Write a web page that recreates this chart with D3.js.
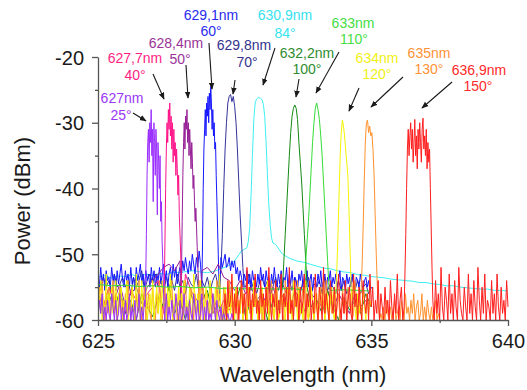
<!DOCTYPE html>
<html><head><meta charset="utf-8">
<script src="https://cdn.jsdelivr.net/npm/d3@7/dist/d3.min.js"></script>
<style>
html,body{margin:0;padding:0;background:#fff;}
svg{display:block;font-family:"Liberation Sans",Arial,sans-serif;}
</style></head>
<body>
<svg id="chart" width="527" height="390"></svg>
<script>
// ---------------- DATA ----------------
const xMajorTicks = [625, 630, 635, 640];
const xMinorTicks = [627.5, 632.5, 637.5];
const yMajorTicks = [-20, -30, -40, -50, -60];
const yMinorTicks = [-25, -35, -45, -55];

const seriesNames  = ["630,9nm", "629,8nm", "629,1nm", "628,4nm", "627,7nm", "632,2nm", "635nm", "634nm", "627nm", "633nm", "636,9nm"];
const seriesAngles = ["84°", "70°", "60°", "50°", "40°", "100°", "130°", "120°", "25°", "110°", "150°"];

// each spectrum = noise floor (start, step, values) + peak (start, step, values)
const cyanNoiseStart = 625, cyanNoiseStep = 0.25;
const cyanNoise = [-53.5,-53.2,-53.6,-53.3,-53.4,-53.1,-53.5,-53.0,-53.2,-52.9,-53.1,-52.7,-52.8,-52.6,-52.5,-52.7,-52.8,-52.6,-52.2,-51.8,-51.0,-49.5,-49,-30,-26,-40,-48.5,-50.0,-50.6,-51.0,-51.2,-51.5,-51.8,-52.1,-52.2,-52.5,-52.7,-52.8,-53.1,-53.2,-53.4,-53.5,-53.6,-53.8,-53.9,-54.0,-54.1,-54.3,-54.3,-54.5,-54.6,-54.8,-54.8,-55.0,-55.1,-55.2,-55.3,-55.3,-55.5,-55.5,-55.6];
const cyanPeakStart = 630.45, cyanPeakStep = 0.05;
const cyanPeak = [-49,-48,-46,-41,-35,-29.5,-27,-26.4,-26.2,-26.2,-26.3,-26.5,-27.2,-29,-33,-38,-42.5,-45.5,-47.5,-48.3];

const navyNoiseStart = 625, navyNoiseStep = 0.1;
const navyNoise = [-54,-55.5,-53.5,-55,-54,-56,-53,-55,-54.5,-53.5,
  -55,-54,-56,-53.5,-55,-54,-52.5,-55.5,-54,-53,
  -54.5,-53,-55,-54,-56,-53.5,-55,-54,-55.5,-53,
  -55,-54,-56,-53.5,-54.5,-55,-53,-56,-54,-55,
  -53.5,-55.5,-54,-53,-55,-54.5,-56,-53.5,-55,-54,
  -55,-53.5,-56,-54.5,-55,-53,-55.5,-54,-56,-54.5,
  -53.5,-55,-54,-56,-55,-53.5,-55.5,-54,-55,-56,
  -54,-55.5,-53.5,-55,-56,-54,-55,-53.5,-56,-54.5,
  -55,-54,-56,-53.5,-55.5,-54.5,-55,-56,-54,-55.5,
  -54,-56,-55,-53.5,-55.5,-54,-56,-55,-54.5,-56,-55];
const navyPeakStart = 629.45, navyPeakStep = 0.05;
const navyPeak = [-55,-52,-47,-40,-34,-30,-27,-26,-25.7,-26.8,-26,-27.5,-30,-34,-39,-44,-48,-52,-55];

const blueNoiseStart = 625, blueNoiseStep = 0.05;
const blueNoise = [-53,-55,-52,-54.5,-53,-55.5,-52.5,-54,-53.5,-55,-52,-54,-53,-55.5,-52.5,-54.5,-53,-51.5,-54,-55,
  -52.5,-54,-53,-55,-52,-54.5,-53.5,-55.5,-52,-54,-53,-51.5,-54.5,-53,-55,-52.5,-54,-53,-55,-52,
  -54,-52.5,-55,-53,-54,-52,-54.5,-53,-51.5,-54,-52.5,-55,-53,-52,-54,-51.5,-53.5,-52,-54.5,-53,
  -52,-53.5,-51,-52.5,-50.5,-52,-53,-51,-52.5,-50,-51.5,-53,-50.5,-52,-49.5,-51.5,-50,-52,-51,-49.5,
  -50,-51.5,-50.5,-52,-51,-50,-52.5,-51,-49.5,-51.5,-50.5,-52,-51,-50,-52,-51.5,-50.5,-52.5,-51,-52,
  -51,-53,-52,-54,-52.5,-53.5,-55,-53,-54,-52.5,-54.5,-53,-55,-52.5,-54,-53.5,-55,-53,-54.5,-52,
  -54,-53,-55,-52.5,-54,-53.5,-55.5,-53,-54.5,-52,-54,-55,-53,-54.5,-52.5,-55,-53.5,-54,-52,-55,
  -53,-54.5,-52.5,-55,-53.5,-54,-55.5,-53,-54,-52.5,-55,-53,-54.5,-52.5,-55,-54,-53,-55.5,-53.5,-54,
  -55,-53,-54.5,-52.5,-55,-54,-53,-55.5,-53.5,-54,-52.5,-55,-53.5,-54.5,-53,-55,-54,-52.5,-55.5,-53.5,
  -54,-55.5,-53,-54.5,-53.5,-55,-53,-54.5,-55.5,-53.5,-54,-55,-53,-54.5,-55.5,-54,-53.5,-55,-54,-55.5,
  -55];
const bluePeakStart = 628.8, bluePeakStep = 0.025;
const bluePeak = [-55,-48,-40,-34,-31,-28,-32,-27,-29,-26,-30,-25.5,-28,-24.5,-27,-31,-28,-32,-30,-34,-33,-38,-42,-46,-50,-54,-57];

const purpleNoiseStart = 625, purpleNoiseStep = 0.2;
const purpleNoise = [-56,-58,-55,-57,-54.5,-58,-56,-55,-57.5,-55,
  -54,-53,-52,-51.5,-52.5,-51,-52,-53,-51.5,-52.5,
  -52,-53,-51.5,-53.5,-54,-55.5,-54,-56,-55,-57,
  -56,-58,-55,-57.5,-56,-58.5,-55.5,-57,-59,-56,
  -57,-58,-55.5,-58.5,-56,-57.5,-59,-56,-58,-57,-58];
const purplePeakStart = 628.03, purplePeakStep = 0.025;
const purplePeak = [-58,-53,-45,-38,-33,-30,-34,-29,-31,-28,-33,-30,-35,-31,-34,-37,-33,-36,-40,-38,-42,-45,-43,-46,-49,-52,-55,-57,-59];

const pinkNoiseStart = 625, pinkNoiseStep = 0.2;
const pinkNoise = [-56,-58,-55,-57.5,-56,-59,-55.5,-57,-58.5,-56,-55,-54,-53.5,-55,-54.5,-56,-53,-55.5,-57,-55,-58,-56,-59,-57,-58.5,-57];
const pinkPeakStart = 627.4, pinkPeakStep = 0.025;
const pinkPeak = [-59,-55,-48,-40,-34,-30,-33,-28,-31,-27,-32,-29,-34,-30,-36,-31,-35,-33,-38,-34,-37,-41,-38,-44,-47,-50,-54,-57,-59];

const dgreenNoiseStart = 625, dgreenNoiseStep = 0.2;
const dgreenNoise = [-57,-59,-56,-58.5,-55.5,-59,-57,-60,-56,-58,
  -59.5,-56.5,-58,-55,-59,-57,-60,-56,-58.5,-57,
  -55.5,-59,-57.5,-60,-56,-58,-55,-59.5,-57,-58,
  -56,-60,-57,-58.5,-55.5,-59,-57.5,-56,-60,-58,
  -57,-59,-55.5,-58,-60,-56.5,-58.5,-57,-59,-56,-58];
const dgreenPeakStart = 631.75, dgreenPeakStep = 0.05;
const dgreenPeak = [-55,-51,-47,-43,-39,-35,-31.5,-29,-27.8,-27.3,-27.8,-29.5,-33,-36,-39,-43,-47,-51,-55];

const orangeNoiseStart = 625, orangeNoiseStep = 0.05;
const orangeNoise = [-57,-55,-59,-54,-58,-60,-56,-59,-55,-60,-57,-54,-59,-56,-60,-58,-55,-59,-57,-60,
  -56,-59,-54,-58,-60,-55,-57,-60,-56,-59,-54,-58,-60,-57,-55,-60,-58,-56,-59,-60,
  -55,-58,-60,-56,-59,-54,-57,-60,-58,-55,-60,-57,-59,-56,-54,-60,-58,-57,-60,-55,
  -59,-56,-60,-57,-54,-59,-58,-60,-55,-57,-60,-56,-59,-58,-54,-60,-57,-55,-59,-60,
  -56,-60,-58,-55,-59,-57,-60,-54,-58,-56,-60,-59,-55,-57,-60,-58,-54,-59,-56,-60,
  -58,-55,-60,-57,-59,-54,-60,-56,-58,-60,-55,-59,-57,-60,-54,-58,-56,-60,-59,-55,
  -60,-57,-59,-55,-58,-60,-56,-54,-59,-60,-57,-55,-60,-58,-56,-59,-60,-54,-57,-60,
  -55,-59,-57,-60,-56,-58,-54,-60,-59,-57,-55,-60,-58,-56,-60,-59,-55,-57,-60,-58,
  -56,-60,-58,-55,-59,-57,-60,-54,-58,-60,-56,-59,-57,-55,-60,-58,-56,-60,-59,-55,
  -59,-57,-60,-55,-58,-56,-60,-59,-54,-57,-60,-58,-56,-60,-59,-57,-55,-60,-58,-56,
  -59,-60,-58,-60,-59,-57,-60,-59,-60,-58,-60,-57,-59,-60,-58,-60,-59,-57,-60,-59,
  -58,-60,-57,-59,-60,-56,-59,-58,-60,-57,-59,-56,-60,-58,-57,-60,-59,-56,-60,-58,
  -60,-57,-59,-60,-58,-60,-59,-57,-60,-59,-60];
const orangePeakStart = 634.62, orangePeakStep = 0.04;
const orangePeak = [-56,-52,-46,-39,-33,-30,-29.6,-31.5,-30.5,-32,-31.5,-34,-38,-44,-50,-55,-58];

const yellowNoiseStart = 625, yellowNoiseStep = 0.05;
const yellowNoise = [-55,-58,-54,-60,-57,-59,-53,-58,-56,-60,-55,-59,-57,-54,-60,-56,-58,-55,-60,-57,
  -58,-54,-60,-56,-59,-55,-57,-60,-53,-58,-56,-60,-54,-59,-57,-55,-60,-58,-56,-59,
  -54,-60,-57,-55,-59,-56,-60,-54,-58,-57,-60,-55,-59,-53,-58,-60,-56,-57,-59,-55,
  -60,-56,-58,-54,-59,-57,-60,-55,-58,-60,-53,-57,-59,-56,-60,-54,-58,-57,-60,-55,
  -57,-59,-54,-60,-56,-58,-55,-60,-57,-53,-59,-58,-60,-55,-57,-60,-56,-59,-54,-58,
  -60,-55,-58,-57,-59,-54,-60,-56,-58,-60,-55,-57,-59,-60,-54,-58,-56,-60,-57,-59,
  -55,-60,-57,-58,-54,-60,-59,-56,-58,-60,-55,-57,-60,-59,-54,-58,-56,-60,-57,-55,
  -59,-56,-60,-54,-58,-57,-60,-55,-59,-58,-60,-56,-54,-59,-60,-57,-55,-58,-60,-56,
  -58,-60,-55,-57,-59,-54,-60,-58,-56,-60,-57,-55,-59,-60,-56,-58,-54,-60,-57,-59,
  -56,-60,-58,-55,-59,-60,-57,-54,-58,-60,-56,-59,-57,-60,-55,-58,-60,-56,-59,-57,
  -58];
const yellowPeakStart = 633.7, yellowPeakStep = 0.04;
const yellowPeak = [-56,-52,-47,-41,-35,-31.5,-29.6,-30.5,-32,-34,-36,-38,-43,-49,-55];

const violetNoiseStart = 625, violetNoiseStep = 0.05;
const violetNoise = [-60,-57,-59,-56,-60,-58,-60,-57,-59,-60,-56,-58,-60,-57,-60,-59,-56,-60,-58,-60,
  -57,-60,-59,-56,-60,-58,-60,-57,-60,-59,-56,-60,-58,-60,-57,-59,-60,-56,-60,-58,
  -60,-57,-59,-60,-56,-58,-60,-57,-60,-59,-56,-60,-58,-60,-57,-59,-60,-56,-58,-60,
  -57,-60,-59,-56,-60,-58,-60,-57,-59,-60,-56,-58,-60,-57,-60,-59,-56,-60,-58,-60,
  -57,-60,-59,-60,-56,-58,-60,-57,-59,-60,-58,-60,-59,-60,-60,-59,-60,-60,-59,-60,
  -60];
const violetPeakStart = 626.72, violetPeakStep = 0.025;
const violetPeak = [-58,-54,-47,-38,-33,-31,-36,-30,-33,-28,-35,-31,-42,-30,-33,-38,-31,-34,-44,-33,-36,-40,-35,-45,-42,-48,-51,-55,-58,-60];

const lgreenNoiseStart = 625, lgreenNoiseStep = 0.5;
const lgreenNoise = [-54.6,-54.8,-54.7,-54.9,-54.8,-55,-54.9,-55.1,-55,-55.2,-55.1,-55.3,-55.2,-55.3,-55.2,-55.4,-55.3,-55.5,-55.4,-55.5,-55.6];
const lgreenPeakStart = 632.55, lgreenPeakStep = 0.05;
const lgreenPeak = [-55,-51,-48,-45,-41,-37,-33,-30,-27.8,-27,-28,-29.5,-32,-35,-39,-43,-47,-51,-55];

const redNoiseStart = 629.6, redNoiseStep = 0.05;
const redNoise = [-59,-56,-60,-54,-58,-57,-53,-60,-56,-59,-55,-60,-57,-54,-59,-56,-60,-52,-58,-55,
  -60,-56,-58,-53,-59,-57,-60,-54,-58,-56,-60,-55,-59,-52,-57,-60,-56,-58,-54,-60,
  -57,-59,-53,-60,-56,-58,-55,-60,-52,-59,-57,-60,-54,-58,-56,-60,-55,-59,-57,-53,
  -60,-56,-58,-54,-60,-57,-59,-53,-58,-60,-55,-57,-60,-52,-59,-56,-58,-60,-54,-57,
  -59,-55,-60,-57,-53,-58,-60,-56,-59,-54,-60,-57,-55,-59,-60,-53,-58,-56,-60,-55,
  -58,-60,-54,-57,-59,-56,-60,-53,-58,-55,-60,-57,-59,-54,-60,-56,-58,-60,-55,-59,
  -57,-60,-54,-58,-60,-56,-59,-53,-60,-57,-55,-60,-58,-56,-60,-54,-59,-57,-60,-55,
  -60,-57,-59,-54,-60,-56,-58,-60,-53,-59,-57,-60,-55,-58,-60,-54,-59,-56,-60,-52,
  -58,-60,-55,-57,-60,-53,-59,-56,-60,-54,-58,-60,-52,-57,-59,-60,-55,-58,-60,-53,
  -59,-56,-60,-54,-58,-60,-52,-57,-60,-55,-59,-53,-60,-57,-58,-60,-54,-59,-56,-60,
  -53,-58,-60,-55,-59,-57,-60,-54,-58];
const redPeakStart = 636.2, redPeakStep = 0.03;
const redPeak = [-58,-53,-47,-40,-34,-31,-35,-32,-30,-34,-31,-36,-33,-29.5,-35,-32,-37,-31,-34,-30,-33,-36,-31,-29.3,-34,-32,-35,-31,-37,-33,-36,-34,-40,-46,-52,-57,-59];

// ---------------- STYLE / LAYOUT ----------------
const seriesColors = ["#3ff0f2", "#34349c", "#1616ff", "#961f96", "#ff1489", "#148a14", "#ff922e", "#f4f400", "#9a2eff", "#36dc36", "#ff1e1e"];
const textColors   = ["#36e2f0", "#33338f", "#2a2aee", "#993399", "#ff1f84", "#2e8c2e", "#ff9236", "#f0f012", "#9b36f5", "#45de45", "#ff2a2a"];
// label layout in pixels: [cx, y1, cx2, y2, ax1, ay1, ax2, ay2]
const labelLayout = [
  [285, 15, 285, 33, 275, 48, 263, 85],
  [244, 45, 247, 62, 235, 80, 233, 94],
  [211, 15, 211, 31, 209, 43, 212, 89],
  [176, 43, 180, 59, 186, 65, 188, 98],
  [135, 58, 135, 75, 153, 74, 164, 99],
  [307, 53, 307, 69, 299, 79, 296, 97],
  [429, 53, 429, 69, 403, 77, 371, 107],
  [377, 58, 377, 74, 359, 88, 349, 111],
  [122, 98, 121, 115, 133, 113, 146, 121],
  [353, 23, 354, 39, 339, 52, 316, 93],
  [479, 70, 478, 86, 452, 82, 422, 108]
];

// ---------------- BUILD ----------------
function buildSeries(ns, nstep, noise, ps, pstep, peak) {
  const pe = ps + (peak.length - 1) * pstep;
  const pts = [];
  noise.forEach((v, i) => { const xv = ns + i * nstep; if (xv < ps - 1e-9 || xv > pe + 1e-9) pts.push([xv, v]); });
  peak.forEach((v, i) => pts.push([ps + i * pstep, v]));
  pts.sort((a, b) => a[0] - b[0]);
  return pts;
}
const allSeries = [
  buildSeries(cyanNoiseStart, cyanNoiseStep, cyanNoise, cyanPeakStart, cyanPeakStep, cyanPeak),
  buildSeries(navyNoiseStart, navyNoiseStep, navyNoise, navyPeakStart, navyPeakStep, navyPeak),
  buildSeries(blueNoiseStart, blueNoiseStep, blueNoise, bluePeakStart, bluePeakStep, bluePeak),
  buildSeries(purpleNoiseStart, purpleNoiseStep, purpleNoise, purplePeakStart, purplePeakStep, purplePeak),
  buildSeries(pinkNoiseStart, pinkNoiseStep, pinkNoise, pinkPeakStart, pinkPeakStep, pinkPeak),
  buildSeries(dgreenNoiseStart, dgreenNoiseStep, dgreenNoise, dgreenPeakStart, dgreenPeakStep, dgreenPeak),
  buildSeries(orangeNoiseStart, orangeNoiseStep, orangeNoise, orangePeakStart, orangePeakStep, orangePeak),
  buildSeries(yellowNoiseStart, yellowNoiseStep, yellowNoise, yellowPeakStart, yellowPeakStep, yellowPeak),
  buildSeries(violetNoiseStart, violetNoiseStep, violetNoise, violetPeakStart, violetPeakStep, violetPeak),
  buildSeries(lgreenNoiseStart, lgreenNoiseStep, lgreenNoise, lgreenPeakStart, lgreenPeakStep, lgreenPeak),
  buildSeries(redNoiseStart, redNoiseStep, redNoise, redPeakStart, redPeakStep, redPeak)
];

const svg = d3.select("#chart");
const x = d3.scaleLinear().domain([625, 640]).range([98, 508]);
const y = d3.scaleLinear().domain([-60, -20]).range([320, 57]);
const axisColor = "#555";

const defs = svg.append("defs");
defs.append("clipPath").attr("id", "plotclip")
  .append("rect").attr("x", 98).attr("y", 40).attr("width", 411).attr("height", 281);

const line = d3.line().x(d => x(d[0])).y(d => y(d[1]));
const g = svg.append("g").attr("clip-path", "url(#plotclip)");
allSeries.forEach((s, i) => {
  g.append("path").datum(s).attr("d", line)
    .attr("fill", "none").attr("stroke", seriesColors[i])
    .attr("stroke-width", 1).attr("stroke-linejoin", "round");
});

// axes
function styleAxis(sel) {
  sel.select(".domain").attr("stroke", axisColor).attr("stroke-width", 1.3);
  sel.selectAll(".tick line").attr("stroke", axisColor).attr("stroke-width", 1.3);
  sel.selectAll(".tick text").attr("fill", "#1a1a1a").style("font-size", "20px")
    .style("font-family", '"Liberation Sans", Arial, sans-serif');
}
const xa = svg.append("g").attr("transform", "translate(0,320)")
  .call(d3.axisBottom(x).tickValues(xMajorTicks).tickFormat(d3.format("d")).tickSize(6).tickSizeOuter(0));
styleAxis(xa);
xa.selectAll(".tick text").attr("dy", null).attr("y", 28);
const xm = svg.append("g").attr("transform", "translate(0,320)")
  .call(d3.axisBottom(x).tickValues(xMinorTicks).tickFormat("").tickSize(3).tickSizeOuter(0));
styleAxis(xm); xm.select(".domain").remove();

const ya = svg.append("g").attr("transform", "translate(98,0)")
  .call(d3.axisLeft(y).tickValues(yMajorTicks).tickFormat(d => String(d)).tickSize(6).tickPadding(8).tickSizeOuter(0));
styleAxis(ya);
ya.selectAll(".tick text").attr("dy", "0.36em");
const ym = svg.append("g").attr("transform", "translate(98,0)")
  .call(d3.axisLeft(y).tickValues(yMinorTicks).tickFormat("").tickSize(3).tickSizeOuter(0));
styleAxis(ym); ym.select(".domain").remove();

// axis titles
svg.append("text").attr("x", 303).attr("y", 382).attr("text-anchor", "middle")
  .style("font-size", "22px").attr("fill", "#1a1a1a").text("Wavelength (nm)");
svg.append("text").attr("transform", "translate(30,201) rotate(-90)").attr("text-anchor", "middle")
  .style("font-size", "22px").attr("fill", "#1a1a1a").text("Power (dBm)");

// annotations
defs.append("marker").attr("id", "arrowhead").attr("viewBox", "0 0 10 10")
  .attr("refX", 9).attr("refY", 5).attr("markerWidth", 7).attr("markerHeight", 7)
  .attr("markerUnits", "userSpaceOnUse").attr("orient", "auto")
  .append("path").attr("d", "M0,1 L10,5 L0,9 Z").attr("fill", "#1a1a1a");

seriesNames.forEach((name, i) => {
  const L = labelLayout[i];
  svg.append("text").attr("x", L[0]).attr("y", L[1]).attr("dy", "0.36em").attr("text-anchor", "middle")
    .style("font-size", "14px").attr("fill", textColors[i]).text(name);
  svg.append("text").attr("x", L[2]).attr("y", L[3]).attr("dy", "0.36em").attr("text-anchor", "middle")
    .style("font-size", "14px").attr("fill", textColors[i]).text(seriesAngles[i]);
  svg.append("line").attr("x1", L[4]).attr("y1", L[5]).attr("x2", L[6]).attr("y2", L[7])
    .attr("stroke", "#1a1a1a").attr("stroke-width", 1.1).attr("marker-end", "url(#arrowhead)");
});
</script>
</body></html>
